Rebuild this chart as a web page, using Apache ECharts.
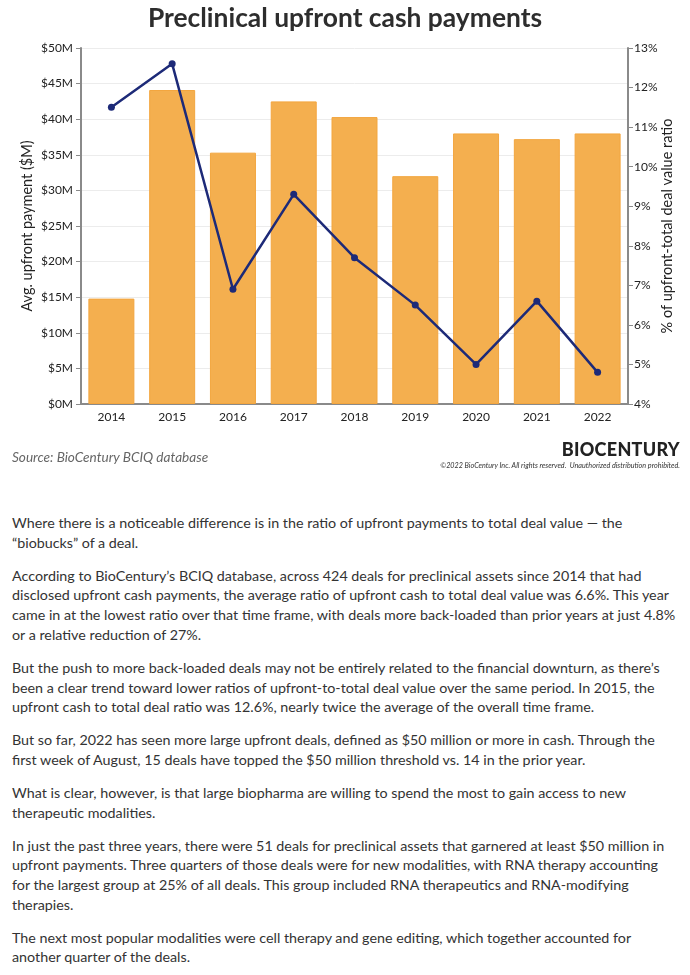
<!DOCTYPE html>
<html>
<head>
<meta charset="utf-8">
<script src="https://cdn.jsdelivr.net/npm/echarts@6/dist/echarts.min.js"></script>
<style>
  html, body { margin: 0; padding: 0; background: #fff; }
  #wrap { position: relative; width: 690px; height: 475px; }
  #chart { width: 690px; height: 475px; }
  .body { font-family: Lato, "Open Sans", sans-serif; font-size: 14.3px; color: #333; padding: 38px 0 0 12px; }
  .body p { margin: 0 0 13.3px 0; line-height: 19.7px; white-space: nowrap; }
  .logo { position: absolute; z-index: 5; right: 10px; top: 438px; font-family: Lato, sans-serif; font-weight: 900; font-size: 18px; color: #222; letter-spacing: 0.3px; }
  .copy { position: absolute; z-index: 5; right: 10px; top: 461px; font-family: Lato, sans-serif; font-style: italic; font-size: 7.2px; color: #333; }
  .src { position: absolute; z-index: 5; left: 12px; top: 449px; font-family: Lato, sans-serif; font-style: italic; font-size: 13.6px; color: #666; }
</style>
</head>
<body>
<div id="wrap">
  <div id="chart"></div>
  <div class="src">Source: BioCentury BCIQ database</div>
  <div class="logo">BIOCENTURY</div>
  <div class="copy">©2022 BioCentury Inc. All rights reserved.&nbsp; Unauthorized distribution prohibited.</div>
</div>
<div class="body">
<p>Where there is a noticeable difference is in the ratio of upfront payments to total deal value — the<br>“biobucks” of a deal.</p>
<p>According to BioCentury’s BCIQ database, across 424 deals for preclinical assets since 2014 that had<br>disclosed upfront cash payments, the average ratio of upfront cash to total deal value was 6.6%. This year<br>came in at the lowest ratio over that time frame, with deals more back-loaded than prior years at just 4.8%<br>or a relative reduction of 27%.</p>
<p>But the push to more back-loaded deals may not be entirely related to the financial downturn, as there’s<br>been a clear trend toward lower ratios of upfront-to-total deal value over the same period. In 2015, the<br>upfront cash to total deal ratio was 12.6%, nearly twice the average of the overall time frame.</p>
<p>But so far, 2022 has seen more large upfront deals, defined as $50 million or more in cash. Through the<br>first week of August, 15 deals have topped the $50 million threshold vs. 14 in the prior year.</p>
<p>What is clear, however, is that large biopharma are willing to spend the most to gain access to new<br>therapeutic modalities.</p>
<p>In just the past three years, there were 51 deals for preclinical assets that garnered at least $50 million in<br>upfront payments. Three quarters of those deals were for new modalities, with RNA therapy accounting<br>for the largest group at 25% of all deals. This group included RNA therapeutics and RNA-modifying<br>therapies.</p>
<p>The next most popular modalities were cell therapy and gene editing, which together accounted for<br>another quarter of the deals.</p>
</div>
<script>
const years = ['2014','2015','2016','2017','2018','2019','2020','2021','2022'];
const upfrontPayment = [14.8, 44.1, 35.3, 42.5, 40.3, 32.0, 38.0, 37.2, 38.0];
const upfrontRatio = [11.5, 12.6, 6.9, 9.3, 7.7, 6.5, 5.0, 6.6, 4.8];

const chart = echarts.init(document.getElementById('chart'));
const axisColor = '#8a8a8a';
const font = 'Lato, "Open Sans", sans-serif';
chart.setOption({
  animation: false,
  textStyle: { fontFamily: font },
  title: {
    text: 'Preclinical upfront cash payments',
    left: 'center', top: 0,
    textStyle: { fontFamily: font, fontWeight: 'bold', fontSize: 26.4, color: '#2d2d2d' }
  },
  grid: { left: 81, right: 62, top: 48, bottom: 71 },
  xAxis: {
    type: 'category',
    data: years,
    axisLine: { lineStyle: { color: axisColor, width: 2 } },
    axisTick: { alignWithLabel: true, length: 5, lineStyle: { color: axisColor } },
    axisLabel: { color: '#222', fontSize: 12, margin: 7 }
  },
  yAxis: [
    {
      type: 'value', min: 0, max: 50, interval: 5,
      name: 'Avg. upfront payment ($M)', nameLocation: 'middle', nameGap: 46, nameRotate: 90,
      nameMoveOverlap: false,
      nameTextStyle: { color: '#222', fontSize: 14.5 },
      axisLine: { show: true, lineStyle: { color: axisColor, width: 2 } },
      axisTick: { show: true, length: 5, lineStyle: { color: axisColor } },
      axisLabel: { formatter: '${value}M', color: '#222', fontSize: 12, margin: 8 },
      splitLine: { lineStyle: { color: '#ececec' } }
    },
    {
      type: 'value', min: 4, max: 13, interval: 1,
      name: '% of upfront-total deal value ratio', nameLocation: 'middle', nameGap: 32, nameRotate: 90,
      nameMoveOverlap: false,
      nameTextStyle: { color: '#222', fontSize: 14.5 },
      axisLine: { show: true, lineStyle: { color: axisColor, width: 2 } },
      axisTick: { show: true, length: 5, lineStyle: { color: axisColor } },
      axisLabel: { formatter: '{value}%', color: '#222', fontSize: 12, margin: 6 },
      splitLine: { show: false }
    }
  ],
  series: [
    {
      type: 'bar', data: upfrontPayment, yAxisIndex: 0, barWidth: 46,
      itemStyle: { color: '#F4AF4F', borderColor: '#F3A63F', borderWidth: 1 }
    },
    {
      type: 'line', data: upfrontRatio, yAxisIndex: 1,
      symbol: 'circle', symbolSize: 7,
      lineStyle: { color: '#1D2A78', width: 2.5 },
      itemStyle: { color: '#1D2A78' }
    }
  ]
});
</script>
</body>
</html>
